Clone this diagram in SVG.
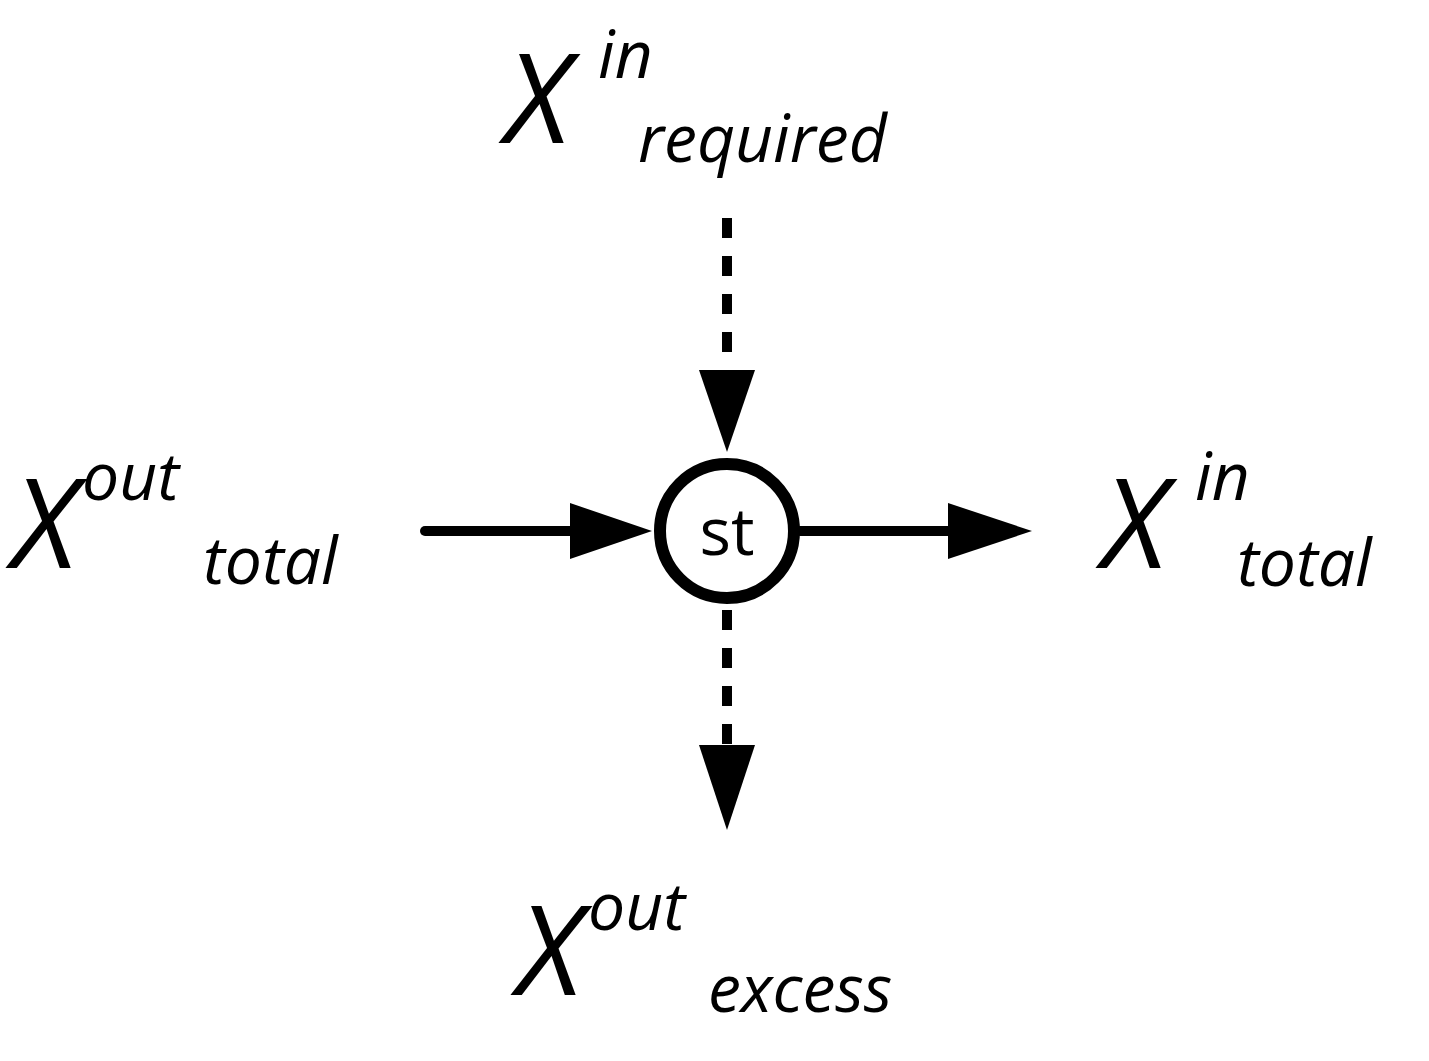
<svg xmlns="http://www.w3.org/2000/svg" width="1429" height="1061" viewBox="0 0 1429 1061">
<style>
.t{font-family:"Open Sans","Noto Sans",sans-serif;font-style:italic;fill:#000}
.big{font-size:125px}
.sm{font-size:66px}
.ln{stroke:#000;stroke-width:10;stroke-linecap:round;fill:none}
.ds{stroke-dasharray:20 18;stroke-linecap:butt}
</style>
<rect width="1429" height="1061" fill="#fff"/>
<g id="connectors">
<line class="ln" x1="425" y1="531" x2="580" y2="531"/>
<polygon points="570,503 652,531 570,559"/>
<line class="ln" x1="800" y1="531" x2="960" y2="531"/>
<polygon points="948,503 1032,531 948,559"/>
<line class="ln ds" x1="727" y1="218" x2="727" y2="375"/>
<polygon points="699,370 755,370 727,452"/>
<line class="ln ds" x1="727" y1="610" x2="727" y2="750"/>
<polygon points="699,745 755,745 727,830"/>
</g>
<g id="st">
<circle cx="727" cy="531" r="67" fill="#fff" stroke="#000" stroke-width="12"/>
<text x="727" y="555" text-anchor="middle" font-family="Open Sans,Noto Sans,sans-serif" font-size="66">st</text>
</g>
<g id="required"><text class="t big" x="505" y="143">X</text><text class="t sm" x="598" y="78">in</text><text class="t sm" x="638" y="162">required</text></g>
<g id="outtotal"><text class="t big" x="12" y="568">X</text><text class="t sm" x="82" y="500">out</text><text class="t sm" x="203" y="584">total</text></g>
<g id="intotal"><text class="t big" x="1102" y="568">X</text><text class="t sm" x="1195" y="500">in</text><text class="t sm" x="1237" y="586">total</text></g>
<g id="excess"><text class="t big" x="517" y="995">X</text><text class="t sm" x="588" y="930">out</text><text class="t sm" x="708" y="1012">excess</text></g>
</svg>
